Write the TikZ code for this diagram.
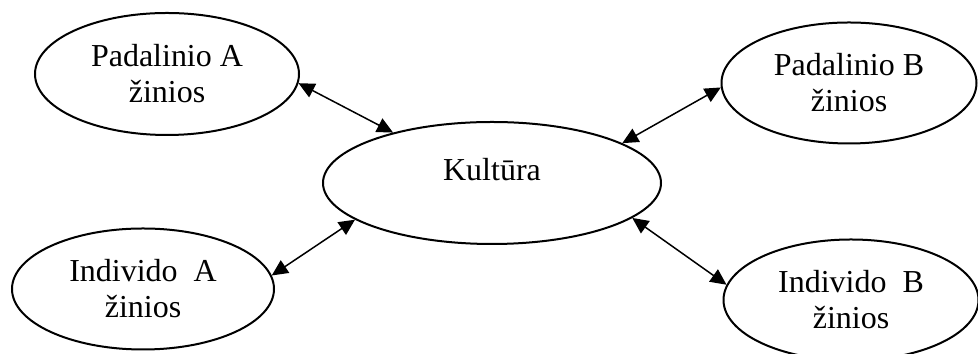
\documentclass[tikz,border=0pt]{standalone}
\usepackage{fontspec}
\setmainfont{Liberation Serif}
\usetikzlibrary{arrows.meta,shapes.geometric}

\begin{document}
\begin{tikzpicture}[
	zinios/.style={draw, ellipse, line width=0.04cm, align=center, inner sep=0pt,
		font=\fontsize{18.2}{20.5}\selectfont, minimum width=5.2cm, minimum height=2.42cm},
	rysys/.style={>={Triangle[length=0.32cm, width=0.3cm]}, <->, line width=0.03cm}]
	%%%%% START %%%%%
	
	\useasboundingbox (0, 0) rectangle (19.56, 7.08);
	
	\node[zinios, minimum width=6.76cm, minimum height=2.44cm, text depth=16pt] (kultura) at (9.84, 3.42) {Kultūra};
	
	\node[zinios, minimum width=5.28cm, minimum height=2.44cm] (padA) at (3.34, 5.6) {Padalinio A\\žinios};
	\node[zinios, minimum width=5.1cm] (padB) at (16.98, 5.42) {Padalinio B\\žinios};
	
	\node[zinios, minimum width=5.24cm] (indA) at (2.86, 1.3) {Individo~~A\\žinios};
	\node[zinios, minimum width=5.1cm] (indB) at (17.02, 1.08) {Individo~~B\\žinios};
	
	\draw[rysys] (padA.-4) -- (kultura.153);
	\draw[rysys] (kultura.17) -- (padB.182);
	\draw[rysys] (indA.6) -- (kultura.195);
	\draw[rysys] (kultura.-14) -- (indB.173);
	
	%%%%% END %%%%%
\end{tikzpicture}
\end{document}
